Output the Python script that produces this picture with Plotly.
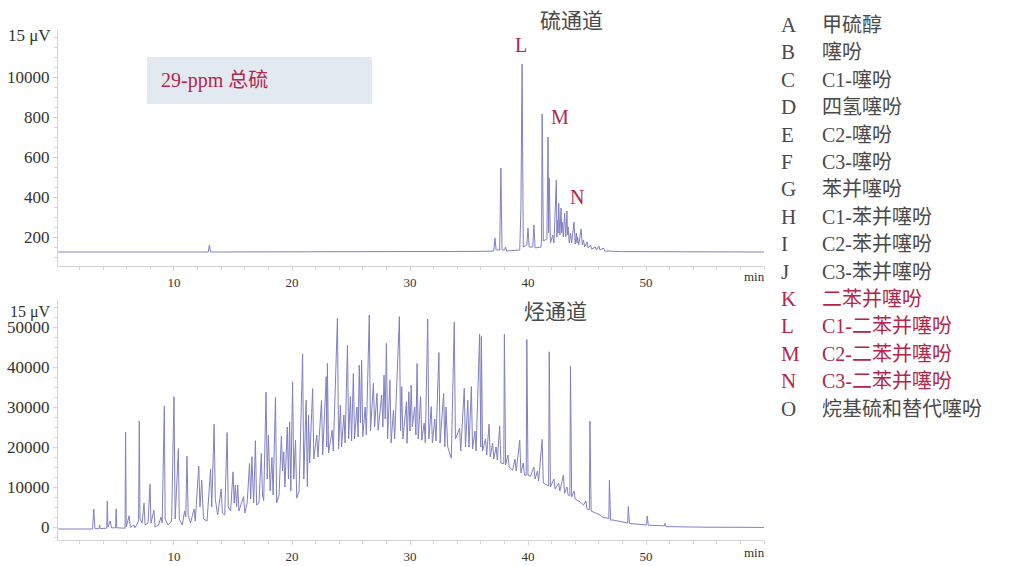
import plotly.graph_objects as go

# ---------------- data ----------------
# Sulfur channel (硫通道) chromatogram vertices: time (min), signal
s_time = [0.2, 12.9, 13.0, 13.1, 36.0, 37.1, 37.2, 37.3, 37.6, 37.7, 37.8, 38.0, 38.1, 38.2,
          39.3, 39.4, 39.5, 39.6, 39.9, 40.0, 40.1, 40.4, 40.5, 40.6, 41.1, 41.15, 41.2, 41.3,
          41.6, 41.7, 41.75, 41.8, 41.9, 42.1, 42.2, 42.4, 42.45, 42.5, 42.55, 42.6, 42.7, 42.8,
          42.85, 42.9, 43.0, 43.1, 43.2, 43.3, 43.35, 43.4, 43.5, 43.6, 43.7, 43.9, 44.0, 44.1,
          44.15, 44.2, 44.3, 44.5, 44.6, 44.7, 44.8, 45.0, 45.1, 45.3, 45.4, 45.7, 45.8, 46.0,
          46.1, 46.4, 46.5, 48.0, 60.0]
s_signal = [125, 125, 160, 125, 128, 130, 195, 135, 135, 545, 135, 135, 150, 130,
            135, 340, 1065, 150, 160, 245, 150, 150, 260, 145, 150, 185, 815, 180,
            190, 700, 220, 495, 170, 210, 170, 485, 200, 285, 220, 370, 210, 345,
            220, 275, 200, 320, 200, 330, 210, 250, 170, 220, 170, 275, 165, 220,
            170, 200, 160, 240, 160, 185, 150, 175, 145, 160, 140, 150, 135, 155,
            135, 145, 130, 127, 125]

# Hydrocarbon channel (烃通道) chromatogram vertices: time (min), signal
h_time = [0.2, 3.1, 3.2, 3.3, 3.65, 3.7, 3.75, 4.3, 4.35, 4.4, 4.6, 4.7, 5.05, 5.1, 5.15,
          5.85, 5.9, 5.95, 6.2, 6.3, 6.6, 6.7, 7.0, 7.06, 7.12, 7.3, 7.46, 7.55, 7.8, 7.97,
          8.05, 8.3, 8.4, 8.7, 8.9, 9.0, 9.18, 9.25, 9.5, 9.8, 10.0, 10.1, 10.37, 10.45, 10.7,
          10.9, 11.0, 11.1, 11.2, 11.4, 11.7, 11.8, 12.1, 12.2, 12.35, 12.5, 12.8, 13.1, 13.2,
          13.4, 13.5, 13.7, 14.0, 14.1, 14.3, 14.5, 14.6, 14.8, 15.0, 15.1, 15.2, 15.3, 15.4,
          15.5, 15.9, 16.0, 16.2, 16.4, 16.5, 16.6, 16.75, 16.9, 17.0, 17.2, 17.4, 17.5, 17.6,
          17.8, 17.9, 18.0, 18.15, 18.3, 18.4, 18.6, 18.7, 18.9, 19.1, 19.2, 19.3, 19.4, 19.6,
          19.7, 19.8, 19.9, 20.05, 20.15, 20.3, 20.4, 20.6, 20.9, 21.0, 21.2, 21.3, 21.4, 21.5,
          21.75, 21.85, 22.1, 22.2, 22.5, 22.6, 22.9, 22.95, 23.0, 23.1, 23.4, 23.5, 23.85,
          23.95, 24.1, 24.2, 24.4, 24.5, 24.7, 24.8, 24.95, 25.05, 25.2, 25.3, 25.5, 25.6,
          25.7, 25.8, 25.9, 26.0, 26.2, 26.3, 26.55, 26.65, 26.9, 27.0, 27.2, 27.3, 27.6,
          27.7, 27.8, 27.9, 28.0, 28.1, 28.3, 28.4, 28.6, 28.7, 29.1, 29.2, 29.3, 29.4, 29.7,
          29.75, 29.9, 30.0, 30.1, 30.2, 30.4, 30.5, 30.6, 30.7, 30.9, 31.0, 31.2, 31.3, 31.5,
          31.6, 31.8, 31.9, 32.1, 32.2, 32.45, 32.55, 32.85, 32.95, 33.05, 33.2, 33.5, 33.75,
          33.85, 34.2, 34.3, 34.6, 34.7, 34.9, 35.0, 35.2, 35.3, 35.5, 35.6, 35.9, 36.0, 36.05,
          36.15, 36.4, 36.5, 36.7, 36.8, 37.0, 37.1, 37.3, 37.4, 37.6, 37.7, 37.95, 38.0, 38.1,
          38.3, 38.4, 38.7, 38.9, 39.0, 39.3, 39.4, 39.6, 39.7, 39.85, 39.9, 40.0, 40.2, 40.5,
          40.6, 40.8, 40.9, 41.2, 41.3, 41.6, 41.75, 41.8, 41.9, 42.2, 42.3, 42.6, 42.7, 43.0,
          43.1, 43.3, 43.4, 43.55, 43.6, 43.7, 43.9, 44.0, 44.4, 44.7, 44.9, 45.0, 45.2, 45.25,
          45.35, 45.8, 46.1, 46.3, 46.85, 46.9, 47.0, 47.2, 48.0, 48.45, 48.5, 48.6, 50.0, 50.05,
          50.1, 50.2, 51.55, 51.6, 51.7, 52.9, 55.0, 60.0]
h_signal = [-500, -500, 4500, -400, -400, 500, -400, -300, 6500, 0, 1500, -200, -200, 4500, -200,
            -300, 23700, 0, 2800, -100, 500, -200, 1500, 26500, 2000, 1000, 6000, 500, 1000, 10700,
            1000, 4200, 0, 500, 2500, 1000, 30200, 2000, 500, 1500, 32600, 2000, 19600, 2000, 500,
            4000, 2500, 17700, 3000, 1000, 4500, 1500, 15200, 5000, 11700, 2000, 1500, 14500, 5000,
            25700, 7000, 3000, 9500, 3500, 3000, 23600, 5000, 4000, 13800, 6000, 10500, 5000, 10500,
            4000, 7600, 3500, 6000, 15900, 7000, 17600, 6000, 21600, 5500, 6000, 18400, 8000, 6500,
            33700, 12000, 23000, 9000, 17400, 8000, 32400, 6000, 8000, 22700, 14000, 18800, 10000, 25000,
            12000, 26300, 9000, 36300, 12000, 21700, 7200, 9000, 43200, 12000, 31700, 10100, 28000, 16000,
            34600, 17000, 23000, 17500, 31600, 18000, 37600, 20000, 40900, 18500, 24200, 19000, 52200,
            19500, 30500, 20000, 28000, 21000, 45500, 22000, 32600, 21500, 38400, 22000, 30000, 22500,
            40500, 26000, 41700, 22600, 30000, 23000, 53000, 24000, 35900, 25000, 33400, 24200, 33000,
            25000, 38000, 27000, 45900, 22000, 36700, 21000, 29200, 22000, 52600, 24000, 35100, 22000, 31300,
            20900, 33800, 24000, 35500, 25000, 30000, 23000, 40900, 22000, 32600, 21700, 26000, 21000, 52000,
            22000, 30100, 21000, 27000, 21500, 43600, 21000, 33400, 20000, 30000, 20000, 17200, 51200,
            22000, 24700, 19000, 34700, 20000, 31700, 20000, 35100, 19500, 24000, 19000, 48200, 20000, 47600,
            19000, 22000, 18000, 25700, 17500, 21000, 17000, 20000, 16700, 25200, 16000, 15800, 48200, 15500,
            18000, 15000, 14200, 17000, 14000, 21700, 13500, 16000, 13000, 12900, 46900, 13000, 12600, 15000,
            12000, 14000, 11500, 21900, 11000, 10500, 10300, 43800, 10000, 12000, 9500, 11000, 9000, 13000,
            8400, 10000, 8000, 7800, 40200, 7500, 9000, 7000, 6300, 5500, 6500, 4500, 4300, 26500,
            4000, 3400, 3000, 2500, 2100, 11700, 1700, 1750, 1200, 1000, 5100, 900, 500, 500,
            2750, 450, 300, 900, 100, 0, -50, -100]

# Tick labels
s_tickvals = [200, 400, 600, 800, 1000]
s_ticktext = ["200", "400", "600", "800", "10000"]
h_tickvals = [0, 10000, 20000, 30000, 40000, 50000]
h_ticktext = ["0", "10000", "20000", "30000", "40000", "50000"]
x_tickvals = [10, 20, 30, 40, 50]

# Legend list
leg_codes = ["A", "B", "C", "D", "E", "F", "G", "H", "I", "J", "K", "L", "M", "N", "O"]
leg_names = ["甲硫醇", "噻吩", "C1-噻吩", "四氢噻吩", "C2-噻吩", "C3-噻吩", "苯并噻吩",
             "C1-苯并噻吩", "C2-苯并噻吩", "C3-苯并噻吩", "二苯并噻吩", "C1-二苯并噻吩",
             "C2-二苯并噻吩", "C3-二苯并噻吩", "烷基硫和替代噻吩"]
leg_highlight = ["K", "L", "M", "N"]

# Peak labels on sulfur channel
peak_labels = ["L", "M", "N"]
peak_label_t = [39.4, 42.7, 44.15]
peak_label_y = [1160, 800, 400]

# ---------------- figure ----------------
W, H = 1016, 566
LINE = "#8080c2"
AXC = "#d4d4d4"
TXT = "#333333"
CJKC = "#4a4a4a"
RED = "#b3264a"
SERIF = "Liberation Serif, Noto Sans CJK SC, serif"
CJK = "Liberation Serif, Noto Sans CJK SC, sans-serif"


def px(x):
    return x / W


def py(y):
    return 1 - y / H


fig = go.Figure()
fig.add_trace(go.Scatter(x=s_time, y=s_signal, mode="lines", line=dict(color=LINE, width=1),
                         xaxis="x", yaxis="y", showlegend=False, hoverinfo="skip"))
fig.add_trace(go.Scatter(x=h_time, y=h_signal, mode="lines", line=dict(color=LINE, width=1),
                         xaxis="x2", yaxis="y2", showlegend=False, hoverinfo="skip"))

xdom = [px(58), px(764)]
common_x = dict(range=[0.17, 60.0], domain=xdom, showline=True, linecolor=AXC, linewidth=1,
                ticks="outside", ticklen=4, tickcolor=AXC, tickvals=x_tickvals,
                tickfont=dict(family=SERIF, size=13, color=TXT), showgrid=False, zeroline=False,
                minor=dict(ticks="outside", ticklen=3, tickcolor=AXC, dtick=2, showgrid=False),
                automargin=False)
common_y = dict(showline=True, linecolor=AXC, linewidth=1, ticks="outside", ticklen=4,
                tickcolor=AXC, tickfont=dict(family=SERIF, size=17, color=TXT), showgrid=False,
                zeroline=False, automargin=False)

fig.update_layout(
    width=W, height=H, margin=dict(l=0, r=0, t=0, b=0),
    paper_bgcolor="white", plot_bgcolor="white", showlegend=False,
    xaxis=dict(common_x, anchor="y"),
    yaxis=dict(common_y, domain=[py(266), py(30)], range=[55, 1235], anchor="x",
               tickvals=s_tickvals, ticktext=s_ticktext,
               minor=dict(ticks="outside", ticklen=3, tickcolor=AXC, dtick=50, showgrid=False)),
    xaxis2=dict(common_x, anchor="y2"),
    yaxis2=dict(common_y, domain=[py(540), py(300)], range=[-3250, 56750], anchor="x2",
                tickvals=h_tickvals, ticktext=h_ticktext,
                minor=dict(ticks="outside", ticklen=3, tickcolor=AXC, dtick=2500, showgrid=False)),
)

ann = []
# unit labels
ann.append(dict(x=px(53), y=py(35), text="15 μV", xanchor="right", yanchor="middle",
                font=dict(family=SERIF, size=17, color=TXT)))
ann.append(dict(x=px(53), y=py(312), text="15 μV", xanchor="right", yanchor="middle",
                font=dict(family=SERIF, size=16, color=TXT)))
# "min" labels
ann.append(dict(x=px(754), y=py(277), text="min", xanchor="center", yanchor="middle",
                font=dict(family=SERIF, size=13, color=TXT)))
ann.append(dict(x=px(754), y=py(552), text="min", xanchor="center", yanchor="middle",
                font=dict(family=SERIF, size=13, color=TXT)))
# channel titles
ann.append(dict(x=px(571), y=py(21), text="硫通道", xanchor="center", yanchor="middle",
                font=dict(family=CJK, size=21, color=CJKC)))
ann.append(dict(x=px(555), y=py(312), text="烃通道", xanchor="center", yanchor="middle",
                font=dict(family=CJK, size=21, color=CJKC)))
# box text
ann.append(dict(x=px(159), y=py(80), text="29-ppm 总硫", xanchor="left", yanchor="middle",
                font=dict(family=CJK, size=20, color=RED)))
# peak labels
for lab, t, v in zip(peak_labels, peak_label_t, peak_label_y):
    ann.append(dict(x=t, y=v, xref="x", yref="y", text=lab, showarrow=False,
                    xanchor="center", yanchor="middle",
                    font=dict(family=SERIF, size=20, color=RED)))
# legend list
for i, (c, n) in enumerate(zip(leg_codes, leg_names)):
    col = RED if c in leg_highlight else CJKC
    yy = 25 + i * 27.4
    ann.append(dict(x=px(779), y=py(yy), text=c, xanchor="left", yanchor="middle",
                    font=dict(family=SERIF, size=21, color=col)))
    ann.append(dict(x=px(820), y=py(yy), text=n, xanchor="left", yanchor="middle",
                    font=dict(family=CJK, size=20, color=col)))

for a in ann:
    a.setdefault("xref", "paper")
    a.setdefault("yref", "paper")
    a["showarrow"] = False
fig.update_layout(annotations=ann)

fig.add_shape(type="rect", xref="paper", yref="paper", x0=px(147), x1=px(372), y0=py(104), y1=py(57),
              fillcolor="#e3e9f0", line=dict(width=0), layer="below")

fig.write_html("out.html", config={"displayModeBar": False},
               post_script="document.body.style.margin='0';document.body.style.padding='0';")
